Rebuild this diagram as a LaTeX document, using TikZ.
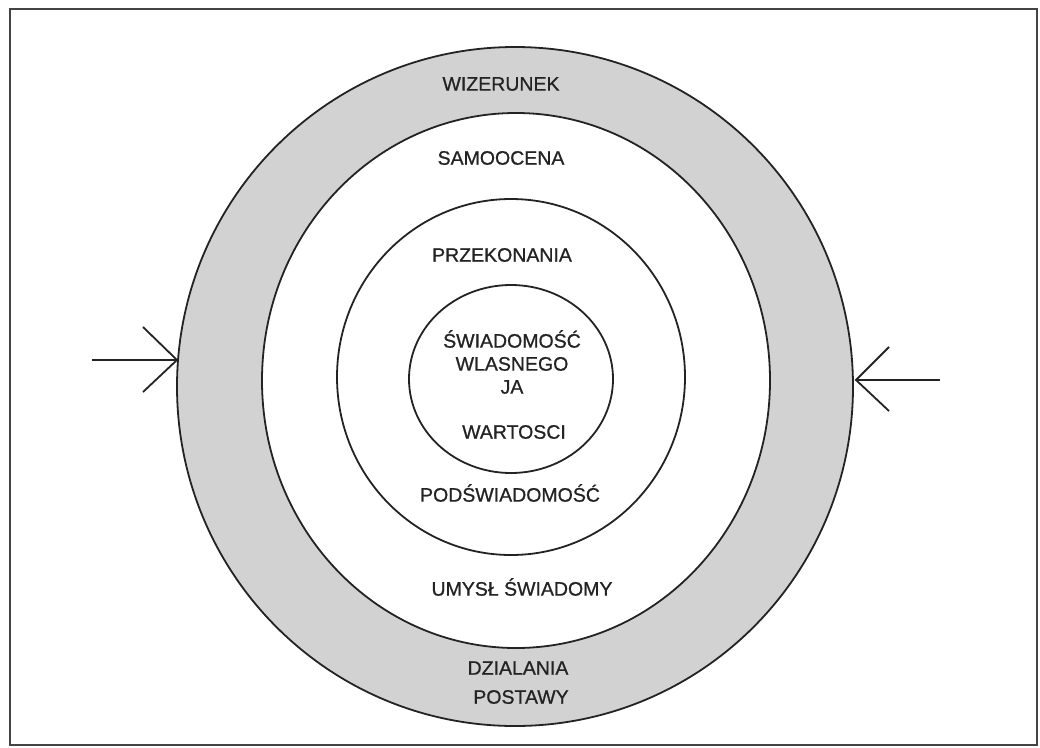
\documentclass[tikz,border=0pt]{standalone}
\usepackage{fontspec}
\setmainfont{Liberation Sans}
\newfontfamily\lblfont[FakeBold=0.8]{Liberation Sans}
\usetikzlibrary{shapes.geometric}
\definecolor{ringgray}{RGB}{210,210,210}
\definecolor{linecol}{RGB}{35,35,35}
\tikzset{
  ring/.style={ellipse, draw=linecol, line width=1.8pt, inner sep=0pt},
  lbl/.style={font=\lblfont\fontsize{19.5}{23}\selectfont, text=linecol, inner sep=0pt, align=center},
  barb/.style={draw=linecol, line width=1.8pt},
}
\begin{document}
\begin{tikzpicture}[x=1pt,y=-1pt]
\useasboundingbox (0,0) rectangle (1040,747);
\draw[linecol!85, line width=2.8pt] (10,9) rectangle (1037,745);
% rings
\node[ring, fill=ringgray, minimum width=676pt, minimum height=679pt] (outer) at (515,386.5) {};
\node[ring, fill=white, minimum width=508pt, minimum height=535pt] (self) at (516,380.5) {};
\node[ring, fill=white, minimum width=348pt, minimum height=356pt] (belief) at (511,377) {};
\node[ring, fill=white, minimum width=204pt, minimum height=188pt] (core) at (511,379) {};
% labels
\node[lbl] (wiz) at (501,84) {WIZERUNEK};
\node[lbl] (sam) at (501,158) {SAMOOCENA};
\node[lbl] (prz) at (502,255) {PRZEKONANIA};
\node[lbl] (swi) at (512,362) {ŚWIADOMOŚĆ\\WLASNEGO\\JA};
\node[lbl] (war) at (514,432) {WARTOSCI};
\node[lbl] (pod) at (510,493) {PODŚWIADOMOŚĆ};
\node[lbl] (umy) at (522,587) {UMYSŁ ŚWIADOMY};
\node[lbl] (dzi) at (518,668) {DZIALANIA};
\node[lbl] (pos) at (521,697) {POSTAWY};
% arrows
\coordinate (lstart) at (92,360);
\coordinate (ltip) at (177,360);
\coordinate (lb1) at (143,327);
\coordinate (lb2) at (143,392);
\coordinate (rstart) at (940,380);
\coordinate (rtip) at (856,380);
\coordinate (rb1) at (889,347);
\coordinate (rb2) at (889,411);
\draw[barb] (lstart) -- (ltip);
\draw[barb] (lb1) -- (ltip) -- (lb2);
\draw[barb] (rstart) -- (rtip);
\draw[barb] (rb1) -- (rtip) -- (rb2);
\end{tikzpicture}
\end{document}
